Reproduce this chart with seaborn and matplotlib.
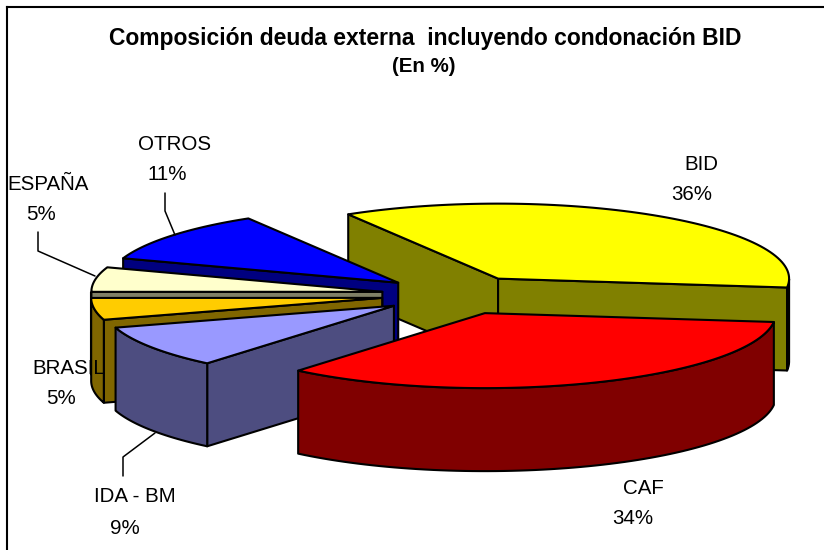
"""
Composicion deuda externa: exploded 3D pie, drawn as projected polygons.
"""

import matplotlib
matplotlib.use('Agg')

import matplotlib.pyplot as plt
import seaborn as sns
import numpy as np

# data
names = ['BID', 'CAF', 'IDA - BM', 'BRASIL', 'ESPAÑA', 'OTROS']
shares = [35.5, 34.2, 9.2, 4.7, 5.3, 11.1]
top_colors = ['#FFFF00', '#FF0000', '#9999FF', '#FFCC00', '#FFFFCC', '#0000FF']
title_lines = ['Composición deuda externa  incluyendo condonación BID', '(En %)']

WIDTH, HEIGHT = 824, 550
FRAME = 6.5
EDGE = 1.5


def project(theta, radius, center, rx, ry):
    return center[0] + radius * rx * np.cos(theta), center[1] - radius * ry * np.sin(theta)


def drawSlice(ax, t1, t2, top, wall, center, rx, ry, depth):
    mid = (t1 + t2) / 2
    apex = project(mid, 0.26, center, rx, ry)
    thetas = np.linspace(t1, t2, 80)
    arcx = apex[0] + rx * np.cos(thetas)
    arcy = apex[1] - ry * np.sin(thetas)

    # radial faces that look towards the viewer
    for t, visible in [(t1, np.cos(t1) < 0), (t2, np.cos(t2) > 0)]:
        if visible:
            ex, ey = apex[0] + rx * np.cos(t), apex[1] - ry * np.sin(t)
            ax.fill([apex[0], ex, ex, apex[0]], [apex[1], ey, ey + depth, apex[1] + depth],
                    facecolor=wall, edgecolor='black', linewidth=EDGE, joinstyle='round')

    # rim, front part only
    front = np.sin(thetas) < 0
    if front.any():
        fx, fy = arcx[front], arcy[front]
        ax.fill(np.r_[fx, fx[::-1]], np.r_[fy, fy[::-1] + depth],
                facecolor=wall, edgecolor='black', linewidth=EDGE, joinstyle='round')

    ax.fill(np.r_[apex[0], arcx], np.r_[apex[1], arcy],
            facecolor=top, edgecolor='black', linewidth=EDGE, joinstyle='round')


def piePlot():
    sns.set_theme(style='white')
    plt.rcParams['font.family'] = ['Liberation Sans', 'DejaVu Sans']

    f = plt.figure(figsize=(WIDTH / 100, HEIGHT / 100), dpi=100)
    ax = f.add_axes([FRAME / WIDTH, 0, 1 - FRAME / WIDTH, 1 - FRAME / HEIGHT])
    ax.set_xlim(FRAME, WIDTH)
    ax.set_ylim(HEIGHT, FRAME)
    ax.set_xticks([])
    ax.set_yticks([])
    sns.despine(ax=ax, top=False, right=True, bottom=True)
    for side in ['left', 'top']:
        ax.spines[side].set_color('black')
        ax.spines[side].set_linewidth(1.5)

    # slice angles, clockwise from the start angle
    palette = sns.color_palette(top_colors)
    walls = [tuple(c * 0.5 for c in rgb) for rgb in palette]
    sweep = np.radians(np.array(shares) / np.sum(shares) * 360)
    edges = np.radians(121.0) - np.r_[0, np.cumsum(sweep)]

    # painter's order, back slices first
    mids = (edges[:-1] + edges[1:]) / 2
    for i in np.argsort(-np.sin(mids)):
        drawSlice(ax, edges[i], edges[i + 1], palette[i], walls[i], (457, 295), 291, 75, 83)

    # leader lines
    leaders = {'OTROS': [(165, 193), (165, 211), (175, 235)],
               'ESPAÑA': [(38, 232), (38, 251), (95, 276)],
               'IDA - BM': [(123, 476), (123, 457), (155, 433)]}
    for pts in leaders.values():
        ax.plot(*zip(*pts), color='black', linewidth=1.1)

    # labels: name position, then percent position
    spots = {'BID': ((701, 164), (692, 194)),
             'CAF': ((643, 488), (633, 519)),
             'IDA - BM': ((135, 496), (125, 528)),
             'BRASIL': ((69, 368), (61, 398)),
             'ESPAÑA': ((48, 184), (41, 214)),
             'OTROS': ((175, 144), (167, 174))}
    for name, share in zip(names, shares):
        p1, p2 = spots[name]
        ax.text(*p1, name, fontsize=14.8, color='black', ha='center', va='center')
        ax.text(*p2, '{:.0f}%'.format(share), fontsize=14.8, color='black', ha='center', va='center')

    ax.text(425, 38, title_lines[0], fontsize=16.5, fontweight='bold', color='black', ha='center', va='center')
    ax.text(424, 66, title_lines[1], fontsize=14.8, fontweight='bold', color='black', ha='center', va='center')

    f.savefig('out.png', dpi=100, format='png')


if __name__ == '__main__':
    piePlot()
